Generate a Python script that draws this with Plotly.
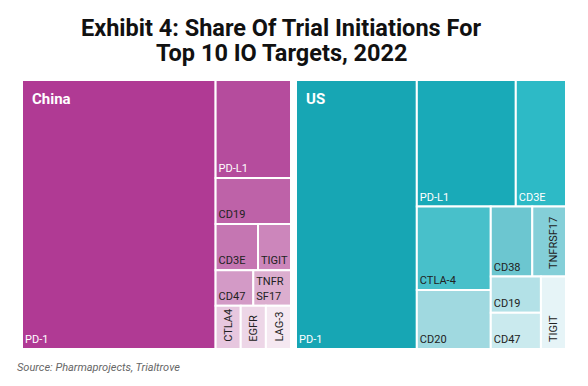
import plotly.graph_objects as go

W, H = 572, 370
OFF = 8  # page body margin

china_labels = ["PD-1", "PD-L1", "CD19", "CD3E", "TIGIT", "CD47", "TNFR<br>SF17", "CTLA4", "EGFR", "LAG-3"]
china_values = [71.9, 10.2, 4.8, 2.7, 2.1, 1.85, 1.85, 1.5, 1.5, 1.5]

us_labels = ["PD-1", "PD-L1", "CD3E", "CTLA-4", "CD20", "CD38", "TNFRSF17", "CD19", "CD47", "TIGIT"]
us_values = [44.75, 17.25, 8.75, 8.5, 6.0, 4.0, 3.25, 2.5, 2.5, 2.5]

china_colors = ["#B03A94", "#B54C9D", "#BE62A8", "#C576B2", "#CC86BB", "#D39AC6", "#DCAECF",
                "#E7C7DF", "#EDD6E7", "#F5E8F1"]
china_text = ["white", "white", "#222", "#222", "#222", "#222", "#222", "#222", "#222", "#222"]

us_colors = ["#17A6B4", "#19AAB8", "#2DBAC6", "#48C0CA", "#A0D9E0", "#6CC6D0", "#84CFD8",
             "#B3E1E7", "#CAEAEE", "#E6F4F7"]
us_text = ["white", "white", "white", "#222", "#222", "#222", "#222", "#222", "#222", "#222"]


def px_x(v):
    return (v - OFF) / W


def px_y(v):
    return 1 - (v - OFF) / H


def squarify(vals, x0, y0, x1, y1, ratio=1.0):
    """d3 treemapSquarify (as used by plotly) - returns tile boxes."""
    rects = [None] * len(vals)
    value = sum(vals)
    i0, n = 0, len(vals)
    while i0 < n:
        dx, dy = x1 - x0, y1 - y0
        s = vals[i0]
        i1 = i0 + 1
        mn = mx = s
        alpha = max(dy / dx, dx / dy) / (value * ratio)
        beta = s * s * alpha
        min_ratio = max(mx / beta, beta / mn)
        while i1 < n:
            v = vals[i1]
            s += v
            mn, mx = min(mn, v), max(mx, v)
            beta = s * s * alpha
            new_ratio = max(mx / beta, beta / mn)
            if new_ratio > min_ratio:
                s -= v
                break
            min_ratio = new_ratio
            i1 += 1
        if dx < dy:
            ny = y0 + dy * s / value
            xx = x0
            for i in range(i0, i1):
                w = (x1 - x0) * vals[i] / s
                rects[i] = (xx, y0, xx + w, ny)
                xx += w
            y0 = ny
        else:
            nx = x0 + dx * s / value
            yy = y0
            for i in range(i0, i1):
                h = (y1 - y0) * vals[i] / s
                rects[i] = (x0, yy, nx, yy + h)
                yy += h
            x0 = nx
        value -= s
        i0 = i1
    return rects


def binary(vals, x0, y0, x1, y1):
    """d3 treemapBinary (as used by plotly) - returns tile boxes."""
    n = len(vals)
    sums = [0.0]
    s = 0.0
    for v in vals:
        s += v
        sums.append(s)
    rects = [None] * n

    def part(i, j, value, a0, b0, a1, b1):
        if i >= j - 1:
            rects[i] = (a0, b0, a1, b1)
            return
        off = sums[i]
        target = value / 2 + off
        k, hi = i + 1, j - 1
        while k < hi:
            mid = (k + hi) >> 1
            if sums[mid] < target:
                k = mid + 1
            else:
                hi = mid
        if (target - sums[k - 1]) < (sums[k] - target) and i + 1 < k:
            k -= 1
        vl = sums[k] - off
        vr = value - vl
        if (a1 - a0) > (b1 - b0):
            ak = (a0 * vr + a1 * vl) / value
            part(i, k, vl, a0, b0, ak, b1)
            part(k, j, vr, ak, b0, a1, b1)
        else:
            bk = (b0 * vr + b1 * vl) / value
            part(i, k, vl, a0, b0, a1, bk)
            part(k, j, vr, a0, bk, a1, b1)

    part(0, n, sums[n], x0, y0, x1, y1)
    return rects


annotations = []


def make_tree(labels, values, colors, tcolors, box, packing):
    x0, y0, x1, y1 = box
    order = sorted(range(len(values)), key=lambda i: -values[i])
    svals = [values[i] for i in order]
    tile = squarify if packing == "squarify" else binary
    srects = tile(svals, x0, y0, x1, y1)
    rects = [None] * len(values)
    for k, i in enumerate(order):
        rects[i] = srects[k]
    texts = []
    for lab, r, tc in zip(labels, rects, tcolors):
        w, h = r[2] - r[0], r[3] - r[1]
        if w < 36 and h > 1.5 * w:
            texts.append("")
            annotations.append(dict(
                text=lab.replace("<br>", ""), textangle=-90,
                x=px_x(r[2] - 4), y=px_y(r[3] - 5), xref="paper", yref="paper",
                xanchor="right", yanchor="bottom", showarrow=False,
                font=dict(family="Roboto", size=11, color=tc)))
        else:
            texts.append(lab)
    return go.Treemap(
        labels=labels,
        parents=[""] * len(labels),
        values=values,
        text=texts,
        sort=True,
        texttemplate="%{text}",
        textposition="bottom left",
        textfont=dict(family="Roboto", size=11, color=tcolors),
        marker=dict(colors=colors, line=dict(width=2, color="white"), cornerradius=4,
                    pad=dict(t=0, l=0, r=0, b=0)),
        tiling=dict(packing=packing, pad=0),
        domain=dict(x=[px_x(x0), px_x(x1)], y=[px_y(y1), px_y(y0)]),
        hovertemplate="%{label}: %{value}<extra></extra>",
        pathbar=dict(visible=False),
    )


fig = go.Figure()
fig.add_trace(make_tree(china_labels, china_values, china_colors, china_text,
                        (22, 80, 291, 349), "squarify"))
fig.add_trace(make_tree(us_labels, us_values, us_colors, us_text,
                        (296, 80, 566, 349), "binary"))

annotations += [
    dict(text="<b>Exhibit 4: Share Of Trial Initiations For</b>",
         x=px_x(281), y=px_y(28), xref="paper", yref="paper", showarrow=False,
         xanchor="center", yanchor="middle",
         font=dict(family="Roboto", size=23.5, color="#111", weight=900)),
    dict(text="<b>Top 10 IO Targets, 2022</b>",
         x=px_x(282), y=px_y(52.5), xref="paper", yref="paper", showarrow=False,
         xanchor="center", yanchor="middle",
         font=dict(family="Roboto", size=23.5, color="#111", weight=900)),
    dict(text="<b>China</b>", x=px_x(30), y=px_y(99), xref="paper", yref="paper",
         showarrow=False, xanchor="left", yanchor="middle",
         font=dict(family="Roboto", size=15, color="white")),
    dict(text="<b>US</b>", x=px_x(304), y=px_y(99), xref="paper", yref="paper",
         showarrow=False, xanchor="left", yanchor="middle",
         font=dict(family="Roboto", size=15, color="white")),
    dict(text="<i>Source: Pharmaprojects, Trialtrove</i>", x=px_x(15), y=px_y(367),
         xref="paper", yref="paper", showarrow=False, xanchor="left", yanchor="middle",
         font=dict(family="Roboto", size=11, color="#666")),
]

fig.update_layout(
    width=W, height=H,
    margin=dict(l=0, r=0, t=0, b=0),
    paper_bgcolor="white",
    font=dict(family="Roboto"),
    showlegend=False,
    annotations=annotations,
)

fig.write_html("out.html")
